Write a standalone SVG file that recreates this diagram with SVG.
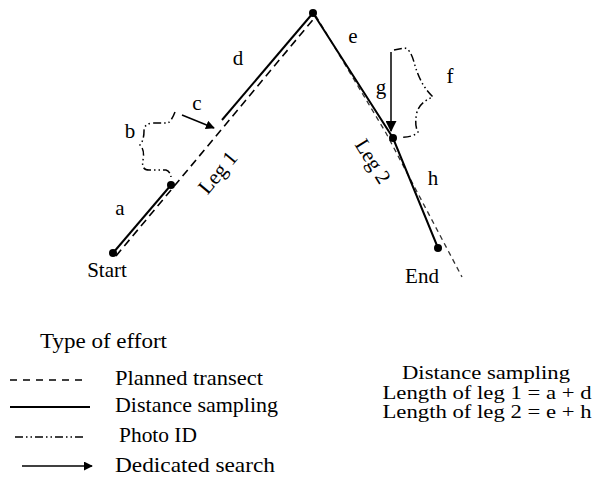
<svg xmlns="http://www.w3.org/2000/svg" width="597" height="477" viewBox="0 0 597 477">
<defs>
<style>
text{font-family:"Liberation Serif","Times New Roman",serif;font-size:21px;fill:#000}
.sm{font-size:19px}
.solid{stroke:#000;stroke-width:2;fill:none}
.plan{stroke:#000;stroke-width:1.6;fill:none;stroke-dasharray:8 5}
.plan2{stroke:#333;stroke-width:1.3;fill:none;stroke-dasharray:5 4}
.photo{stroke:#000;stroke-width:1.5;fill:none;stroke-dasharray:8 3 1.5 3 1.5 3}
.arr{stroke:#000;stroke-width:1.5;fill:none;marker-end:url(#ah)}
.dot{fill:#000}
</style>
<marker id="ah" viewBox="0 0 10 10" refX="9" refY="5" markerWidth="9" markerHeight="9" markerUnits="userSpaceOnUse" orient="auto">
<path d="M0,0 L10,5 L0,10 Z" fill="#000"/>
</marker>
<marker id="ahb" viewBox="0 0 10 10" refX="9" refY="5" markerWidth="11" markerHeight="11" markerUnits="userSpaceOnUse" orient="auto">
<path d="M0,0 L10,5 L0,10 Z" fill="#000"/>
</marker>
</defs>
<g id="connectors">
<path class="plan" d="M116,256 L316,16"/>
<path class="plan2" d="M316,16 L386,133 L462,277"/>
<path class="solid" d="M113,253 L171,185"/>
<path class="solid" d="M222,120 L313,13"/>
<path class="solid" d="M313,13 L393,138 L438,248"/>
<path class="photo" d="M175,112 Q172,120 168,123 L152,123 Q144,124 144,131 Q144,140 140,145 Q145,150 143,160 Q141,170 149,170 L166,170 Q170,171 171,177"/>
<path class="photo" d="M394,50 L404,48 Q410,48 414,62 Q420,85 433,97 Q420,102 417,112 Q414,125 418,132 Q412,138 400,137"/>
<path class="arr" d="M182,115 L214,128"/>
<path stroke="#000" stroke-width="1.5" fill="none" marker-end="url(#ahb)" d="M391,52 L391,131"/>
</g>
<g id="start"><circle class="dot" cx="113" cy="253" r="4"/><text x="107" y="277" text-anchor="middle">Start</text></g>
<g id="mid1"><circle class="dot" cx="171" cy="185" r="4"/></g>
<g id="top"><circle class="dot" cx="313" cy="13" r="4"/></g>
<g id="mid2"><circle class="dot" cx="393" cy="138" r="4"/></g>
<g id="end"><circle class="dot" cx="438" cy="248" r="4"/><text x="422" y="283" text-anchor="middle">End</text></g>
<g id="labels">
<text x="120" y="215" text-anchor="middle">a</text>
<text x="130" y="138" text-anchor="middle">b</text>
<text x="197" y="110" text-anchor="middle">c</text>
<text x="238" y="65" text-anchor="middle">d</text>
<text x="353" y="43" text-anchor="middle">e</text>
<text x="450" y="83" text-anchor="middle">f</text>
<text x="381" y="94" text-anchor="middle">g</text>
<text x="433" y="185" text-anchor="middle">h</text>
<text transform="translate(223,177) rotate(-50)" text-anchor="middle">Leg 1</text>
<text transform="translate(367,165) rotate(58)" text-anchor="middle">Leg 2</text>
</g>
<g id="legend">
<text x="40" y="348" textLength="127" lengthAdjust="spacingAndGlyphs">Type of effort</text>
<line class="plan" x1="10" y1="380" x2="84" y2="380" style="stroke-dasharray:7 6"/>
<text x="115" y="385" textLength="148" lengthAdjust="spacingAndGlyphs">Planned transect</text>
<line class="solid" x1="10" y1="407" x2="90" y2="407"/>
<text x="115" y="412" textLength="163" lengthAdjust="spacingAndGlyphs">Distance sampling</text>
<line class="photo" x1="15" y1="437" x2="86" y2="437"/>
<text x="119" y="442" textLength="78" lengthAdjust="spacingAndGlyphs">Photo ID</text>
<line class="arr" x1="22" y1="466" x2="92" y2="466"/>
<text x="115" y="472" textLength="160" lengthAdjust="spacingAndGlyphs">Dedicated search</text>
</g>
<g id="summary">
<text class="sm" x="486" y="379" text-anchor="middle" textLength="168" lengthAdjust="spacingAndGlyphs">Distance sampling</text>
<text class="sm" x="487" y="399" text-anchor="middle" textLength="209" lengthAdjust="spacingAndGlyphs">Length of leg 1 = a + d</text>
<text class="sm" x="487" y="418" text-anchor="middle" textLength="209" lengthAdjust="spacingAndGlyphs">Length of leg 2 = e + h</text>
</g>
</svg>
